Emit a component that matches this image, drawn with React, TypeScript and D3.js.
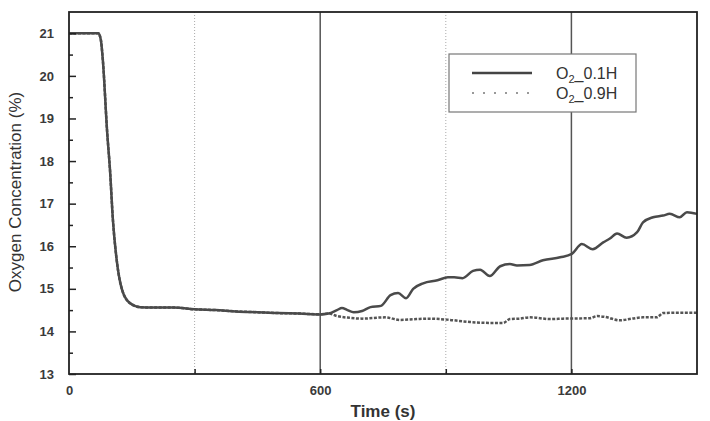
import { axisLeft, axisBottom, scaleLinear, select, line as d3Line, curveMonotoneX } from "d3";
import { useEffect, useRef } from "react";

const WIDTH = 710;
const HEIGHT = 421;
// plot box inside the svg
const MARGINS = { top: 12, right: 13, bottom: 47, left: 69 };

// shared part of both runs (s, %)
const sharedTime = [0, 70, 76, 81, 91, 98, 105, 114, 127, 146, 170, 200, 250, 300, 350, 400, 450, 500, 550, 600, 620];
const sharedO2 = [21.0, 21.0, 20.85, 20.35, 18.7, 17.78, 16.6, 15.67, 14.97, 14.66, 14.57, 14.56, 14.56, 14.52, 14.5, 14.47, 14.45, 14.43, 14.42, 14.4, 14.42];

// O2_0.1H after 620 s
const lowTime = [640, 652, 665, 680, 700, 720, 745, 768, 786, 805, 822, 846, 880, 905, 920, 940, 965, 982, 1005, 1030, 1053, 1070, 1100, 1132, 1173, 1201, 1225, 1251, 1276, 1292, 1309, 1332, 1357, 1371, 1395, 1419, 1435, 1459, 1476, 1500];
const lowO2 = [14.5, 14.55, 14.5, 14.45, 14.48, 14.57, 14.6, 14.85, 14.9, 14.78, 15.0, 15.13, 15.2, 15.27, 15.27, 15.25, 15.42, 15.45, 15.3, 15.53, 15.58, 15.55, 15.56, 15.67, 15.74, 15.82, 16.05, 15.93, 16.09, 16.18, 16.3, 16.2, 16.33, 16.56, 16.68, 16.72, 16.76, 16.68, 16.8, 16.76];

// O2_0.9H after 620 s
const highTime = [640, 670, 700, 755, 790, 830, 862, 910, 958, 1005, 1037, 1053, 1075, 1101, 1149, 1180, 1244, 1262, 1280, 1316, 1345, 1371, 1404, 1419, 1460, 1500];
const highO2 = [14.36, 14.32, 14.3, 14.33, 14.27, 14.29, 14.3, 14.27, 14.22, 14.2, 14.2, 14.29, 14.3, 14.33, 14.29, 14.3, 14.31, 14.36, 14.34, 14.26, 14.3, 14.33, 14.33, 14.43, 14.44, 14.44];

const yTicks = [13, 14, 15, 16, 17, 18, 19, 20, 21];
const yMinorTicks = [13.5, 14.5, 15.5, 16.5, 17.5, 18.5, 19.5, 20.5];
const xLabelTicks = [0, 600, 1200];
const xMarkTicks = [300, 600, 900, 1200];
const solidGrid = [600, 1200];
const dottedGrid = [300, 900];

const FONT = "'Liberation Sans', Arial, sans-serif";

const toPoints = (ts: number[], vs: number[]) => ts.map((t, i) => ({ x: t, y: vs[i] }));

const App = () => {
  const svgElem = useRef<SVGSVGElement>(null);

  useEffect(() => {
    if (!svgElem.current) return;
    const svg = select(svgElem.current);
    svg.selectAll("*").remove();

    const xScale = scaleLinear().domain([0, 1500]).range([MARGINS.left, WIDTH - MARGINS.right]);
    const yScale = scaleLinear().domain([13, 21.5]).range([HEIGHT - MARGINS.bottom, MARGINS.top]);
    const top = MARGINS.top;
    const bottom = HEIGHT - MARGINS.bottom;

    // vertical grid lines
    solidGrid.forEach((t) => {
      svg.append("line")
        .attr("x1", xScale(t)).attr("x2", xScale(t))
        .attr("y1", top).attr("y2", bottom)
        .attr("stroke", "#555").attr("stroke-width", 1.5);
    });
    dottedGrid.forEach((t) => {
      svg.append("line")
        .attr("x1", xScale(t)).attr("x2", xScale(t))
        .attr("y1", top).attr("y2", bottom)
        .attr("stroke", "#aaa").attr("stroke-width", 1).attr("stroke-dasharray", "1,2");
    });

    const line = d3Line<{ x: number; y: number }>()
      .x((p) => xScale(p.x))
      .y((p) => yScale(p.y))
      .curve(curveMonotoneX);

    const shared = toPoints(sharedTime, sharedO2);
    const low = shared.concat(toPoints(lowTime, lowO2));
    const high = shared.concat(toPoints(highTime, highO2));

    svg.append("path")
      .attr("d", line(high))
      .attr("fill", "none").attr("stroke", "#555").attr("stroke-width", 2.5)
      .attr("stroke-dasharray", "3,1.5");
    svg.append("path")
      .attr("d", line(low))
      .attr("fill", "none").attr("stroke", "#4a4a4a").attr("stroke-width", 2.5)
      .attr("stroke-linejoin", "round");

    // axes with inward ticks
    const yAxis = axisLeft(yScale).tickValues(yTicks).tickSize(-7).tickPadding(15).tickFormat((d) => String(d));
    const yMinor = axisLeft(yScale).tickValues(yMinorTicks).tickSize(-4).tickFormat(() => "");
    const xAxis = axisBottom(xScale).tickValues(xLabelTicks).tickSize(0).tickPadding(12).tickFormat((d) => String(d));
    const xMarks = axisBottom(xScale).tickValues(xMarkTicks).tickSize(-5).tickFormat(() => "");

    const styleAxis = (g: any) => {
      g.select(".domain").remove();
      g.selectAll("line").attr("stroke", "#222").attr("stroke-width", 1.5);
      g.selectAll("text")
        .attr("fill", "#3a3a3a")
        .style("font-family", FONT)
        .style("font-size", "13px")
        .style("font-weight", "bold");
    };

    svg.append("g").attr("transform", `translate(${MARGINS.left},0)`).call(yAxis as any).call(styleAxis);
    svg.append("g").attr("transform", `translate(${MARGINS.left},0)`).call(yMinor as any).call(styleAxis);
    svg.append("g").attr("transform", `translate(0,${bottom})`).call(xAxis as any).call(styleAxis);
    svg.append("g").attr("transform", `translate(0,${bottom})`).call(xMarks as any).call(styleAxis);

    // frame
    svg.append("rect")
      .attr("x", MARGINS.left).attr("y", top)
      .attr("width", WIDTH - MARGINS.left - MARGINS.right)
      .attr("height", bottom - top)
      .attr("fill", "none").attr("stroke", "#222").attr("stroke-width", 1.8);

    // legend
    const lg = svg.append("g").attr("transform", "translate(449,54)");
    lg.append("rect").attr("width", 187).attr("height", 58)
      .attr("fill", "white").attr("stroke", "#777").attr("stroke-width", 1.2);
    lg.append("line").attr("x1", 23).attr("x2", 83).attr("y1", 19).attr("y2", 19)
      .attr("stroke", "#444").attr("stroke-width", 2.5);
    lg.append("line").attr("x1", 23).attr("x2", 80).attr("y1", 39).attr("y2", 39)
      .attr("stroke", "#999").attr("stroke-width", 2).attr("stroke-dasharray", "2,9");
    const labels = ["0.1H", "0.9H"];
    labels.forEach((lab, i) => {
      const t = lg.append("text")
        .attr("x", 107).attr("y", 25 + i * 20)
        .attr("fill", "#333")
        .style("font-family", FONT)
        .style("font-size", "16px");
      t.append("tspan").text("O");
      t.append("tspan").attr("dy", 4).style("font-size", "11px").text("2");
      t.append("tspan").attr("dy", -4).text(`_${lab}`);
    });

    // axis titles
    svg.append("text")
      .attr("transform", `translate(21,${(top + bottom) / 2 - 1}) rotate(-90)`)
      .attr("text-anchor", "middle")
      .attr("fill", "#333")
      .style("font-family", FONT)
      .style("font-size", "17px")
      .text("Oxygen Concentration (%)");
    svg.append("text")
      .attr("x", xScale(750)).attr("y", 417)
      .attr("text-anchor", "middle")
      .attr("fill", "#333")
      .style("font-family", FONT)
      .style("font-size", "17px")
      .style("font-weight", "bold")
      .text("Time (s)");
  }, []);

  return (
    <svg
      ref={svgElem}
      width={WIDTH}
      height={HEIGHT}
      style={{ position: "absolute", left: 0, top: 0, background: "white" }}
    />
  );
};

export default App;
